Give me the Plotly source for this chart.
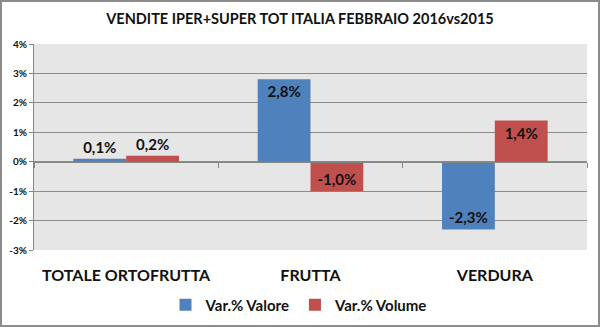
import plotly.graph_objects as go

# Sales variation, February 2016 vs 2015
categories = ["TOTALE ORTOFRUTTA", "FRUTTA", "VERDURA"]
valore = [0.1, 2.8, -2.3]
volume = [0.2, -1.0, 1.4]
y_ticks = [4, 3, 2, 1, 0, -1, -2, -3]
y_tick_labels = [f"{v}%" for v in y_ticks]

BLUE = "#4f81bd"
RED = "#c0504d"
FONT = "Lato"
TXT = "#111111"

W, H = 600, 327
ML, MR, MT, MB = 34, 13, 44, 77
y_min, y_max = -3, 4


def fmt(v):
    return f"{v:.1f}%".replace(".", ",")


label_font = dict(family=FONT, size=15, color=TXT, weight="bold")

fig = go.Figure()
for name, vals, col in [("Var.% Valore", valore, BLUE), ("Var.% Volume", volume, RED)]:
    fig.add_trace(go.Bar(
        x=categories, y=vals, name=name,
        marker=dict(color=col, line=dict(width=0)),
        text=[fmt(v) for v in vals],
        textposition="auto",
        insidetextanchor="end",
        textfont=label_font,
        insidetextfont=label_font,
        outsidetextfont=label_font,
        textangle=0,
        cliponaxis=False,
    ))

# empty trace carrying the category axis drawn along zero
fig.add_trace(go.Bar(x=categories, y=[None] * 3, xaxis="x2", showlegend=False,
                     hoverinfo="skip"))

zero_pos = (0 - y_min) / (y_max - y_min)

fig.update_layout(
    width=W, height=H,
    margin=dict(l=ML, r=MR, t=MT, b=MB, autoexpand=False),
    paper_bgcolor="white",
    plot_bgcolor="#e6e6e6",
    barmode="group",
    bargap=0.427,
    bargroupgap=0,
    title=dict(text="VENDITE IPER+SUPER TOT ITALIA FEBBRAIO 2016vs2015",
               x=(W / 2 - ML) / (W - ML - MR), xref="paper", xanchor="center",
               y=1 - 19 / H, yanchor="middle",
               font=dict(family=FONT, size=14.5, color=TXT, weight="bold")),
    xaxis=dict(showgrid=False, zeroline=False, showline=False, ticks="",
               tickfont=dict(family=FONT, size=16, color=TXT, weight="bold"),
               ticklabelstandoff=14, automargin=False),
    xaxis2=dict(matches="x", overlaying="x", anchor="free", position=zero_pos,
                showticklabels=False, showgrid=False, showline=True, linecolor="#868686",
                linewidth=1, ticks="outside", tickson="boundaries", ticklen=5,
                tickcolor="#868686", tickwidth=1),
    yaxis=dict(range=[y_min, y_max], tickmode="array", tickvals=y_ticks,
               ticktext=y_tick_labels, automargin=False,
               showgrid=True, gridcolor="#8c8c8c", gridwidth=1,
               zeroline=False, showline=True, linecolor="#868686",
               ticks="outside", ticklen=4, tickcolor="#868686",
               tickfont=dict(family=FONT, size=10, color=TXT, weight="bold")),
    legend=dict(orientation="h", x=(W / 2 - 1 - ML) / (W - ML - MR), xanchor="center",
                y=-(305 - (H - MB)) / (H - MT - MB), yanchor="middle",
                font=dict(family=FONT, size=15, color=TXT, weight="bold"),
                itemwidth=30, traceorder="normal"),
)

# outer frame of the chart
pw = W - ML - MR
ph = H - MT - MB
fig.add_shape(type="rect", xref="paper", yref="paper",
              x0=-(ML - 1) / pw, x1=1 + (MR - 1) / pw,
              y0=-(MB - 1) / ph, y1=1 + (MT - 1) / ph,
              line=dict(color="#8c8c8c", width=2), fillcolor="rgba(0,0,0,0)", layer="above")

fig.write_html("out.html")
